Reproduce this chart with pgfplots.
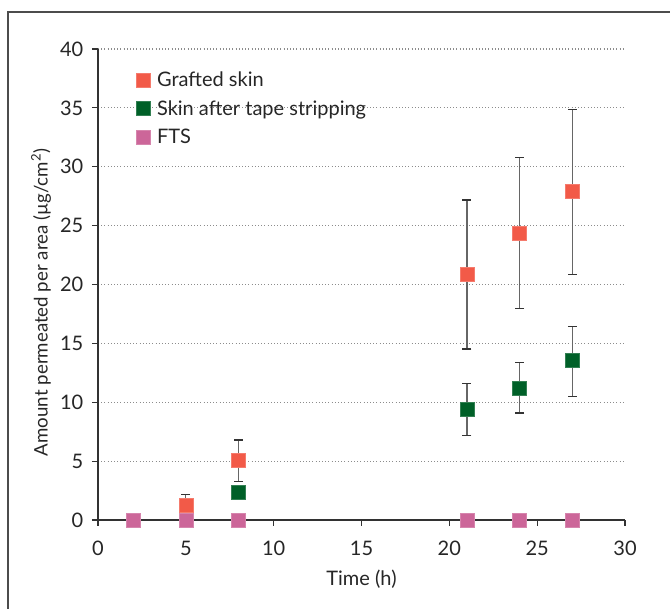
\documentclass[border=0pt]{standalone}
\usepackage{fontspec}
\setmainfont{Lato}
\usepackage{pgfplots}
\pgfplotsset{compat=1.18}
\definecolor{cRed}{RGB}{242,90,72}
\definecolor{cGreen}{RGB}{0,96,40}
\definecolor{cPink}{RGB}{204,102,153}
\definecolor{cAxis}{RGB}{50,50,50}
\begin{document}
\begin{tikzpicture}
\useasboundingbox (-73.5pt,-66.75pt) rectangle (429pt,390pt);
\draw[line width=1.1pt, color=black!70] (-67.5pt,-70pt) -- (-67.5pt,381pt) -- (432pt,381pt);
\begin{axis}[
  at={(0,0)}, anchor=south west,
  scale only axis, width=395.25pt, height=353.25pt,
  xmin=0, xmax=30, ymin=0, ymax=40,
  xtick={0,5,...,30}, ytick={0,5,...,40},
  axis x line*=bottom, axis y line*=left,
  axis line style={color=cAxis, line width=0.9pt, -},
  tick align=outside, major tick length=4.5pt,
  tick style={color=cAxis, line width=0.9pt},
  ymajorgrids, grid style={dotted, color=black!45, line width=0.8pt},
  clip=false,
  font=\fontsize{15}{18}\selectfont,
  tick label style={font=\fontsize{15}{18}\selectfont, color=black!85},
  xticklabel style={yshift=-8pt},
  yticklabel style={xshift=-3pt},
  /pgf/number format/assume math mode=true,
  xlabel={Time (h)},
  ylabel={Amount permeated per area (µg/cm\textsuperscript{2})},
  xlabel style={yshift=-3.5pt},
  ylabel style={at={(ticklabel cs:0.462)}, font=\fontsize{14}{17}\selectfont},
  label style={color=black!85},
  legend style={draw=none, fill=none, at={(rel axis cs:0.065,0.964)}, anchor=north west,
    font=\fontsize{15}{18}\selectfont, row sep=5pt, text=black!85,
    /tikz/every odd column/.append style={column sep=3pt}},
  legend cell align=left,
  error bars/error bar style={line width=0.9pt, color=black!60},
  error bars/error mark options={rotate=90, mark size=3.4pt, line width=0.9pt, color=black!80},
]
\addplot[only marks, mark=square*, mark size=5.2pt, mark options={fill=cRed, draw=cRed!80!white},
  error bars/.cd, y dir=both, y explicit]
  table[x=x, y=y, y error plus=ep, y error minus=em] {
x  y     ep    em
5  1.27  0.88  0.5
8  5.05  1.75  1.75
21 20.85 6.33  6.33
24 24.38 6.42  6.44
27 27.9  6.93  7.05
};
\addlegendentry{Grafted skin}
\addplot[only marks, mark=square*, mark size=5.2pt, mark options={fill=cGreen, draw=cGreen!80!white},
  error bars/.cd, y dir=both, y explicit]
  table[x=x, y=y, y error plus=ep, y error minus=em] {
x  y     ep    em
8  2.35  0.5   0.5
21 9.38  2.22  2.18
24 11.21 2.18  2.12
27 13.53 2.91  3.03
};
\addlegendentry{Skin after tape stripping}
\addplot[only marks, mark=square*, mark size=5.2pt, mark options={fill=cPink, draw=cPink!80!white}]
  table[x=x, y=y] {
x  y
2  0
5  0
8  0
21 0
24 0
27 0
};
\addlegendentry{FTS}
\end{axis}
\end{tikzpicture}
\end{document}
